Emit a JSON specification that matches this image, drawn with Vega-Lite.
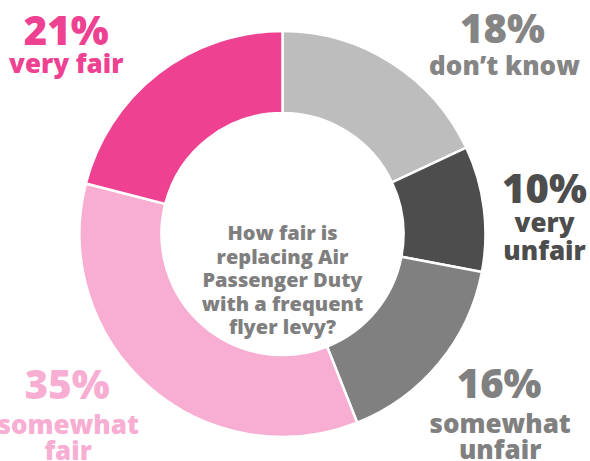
{
  "$schema": "https://vega.github.io/schema/vega-lite/v6.json",
  "width": 565,
  "height": 454,
  "autosize": {"type": "none"},
  "padding": {"left": 0, "top": 7, "right": 25, "bottom": 0},
  "background": "white",
  "config": {"view": {"stroke": null}, "text": {"font": "Open Sans", "fontWeight": 800, "align": "center", "baseline": "alphabetic", "lineBreak": "\n"}},
  "data": {"values": [
    {"cat": "dk", "value": 18, "pct": "18%", "label": "don’t know", "order": 1},
    {"cat": "vu", "value": 10, "pct": "10%", "label": "very\nunfair", "order": 2},
    {"cat": "su", "value": 16, "pct": "16%", "label": "somewhat\nunfair", "order": 3},
    {"cat": "sf", "value": 35, "pct": "35%", "label": "somewhat\nfair", "order": 4},
    {"cat": "vf", "value": 21, "pct": "21%", "label": "very fair", "order": 5}
  ]},
  "encoding": {
    "theta": {"field": "value", "type": "quantitative", "stack": true},
    "order": {"field": "order", "type": "quantitative"}
  },
  "layer": [
    {
      "mark": {"type": "arc", "innerRadius": 121, "outerRadius": 203, "stroke": "white", "strokeWidth": 2.5},
      "encoding": {
        "color": {"field": "cat", "type": "nominal", "legend": null,
          "scale": {"domain": ["dk", "vu", "su", "sf", "vf"], "range": ["#BDBDBD", "#4D4D4D", "#808080", "#F8AED2", "#EE4192"]}}
      }
    },
    {"mark": {"type": "text", "radius": 250, "dx": -63, "dy": 9, "fontSize": 40, "fontWeight": 900, "color": "#EE4192"},
     "encoding": {"text": {"condition": {"test": "datum.cat === 'vf'", "field": "pct", "type": "nominal"}, "value": ""}}},
    {"mark": {"type": "text", "radius": 250, "dx": -63, "dy": 37, "fontSize": 26, "color": "#EE4192", "lineHeight": 27},
     "encoding": {"text": {"condition": {"test": "datum.cat === 'vf'", "field": "label", "type": "nominal"}, "value": ""}}},
    {"mark": {"type": "text", "radius": 250, "dx": 86, "dy": 20, "fontSize": 40, "fontWeight": 900, "color": "#858585"},
     "encoding": {"text": {"condition": {"test": "datum.cat === 'dk'", "field": "pct", "type": "nominal"}, "value": ""}}},
    {"mark": {"type": "text", "radius": 250, "dx": 88, "dy": 52, "fontSize": 26, "color": "#858585", "lineHeight": 27},
     "encoding": {"text": {"condition": {"test": "datum.cat === 'dk'", "field": "label", "type": "nominal"}, "value": ""}}},
    {"mark": {"type": "text", "radius": 250, "dx": 14, "dy": 0, "fontSize": 40, "fontWeight": 900, "color": "#4D4D4D"},
     "encoding": {"text": {"condition": {"test": "datum.cat === 'vu'", "field": "pct", "type": "nominal"}, "value": ""}}},
    {"mark": {"type": "text", "radius": 250, "dx": 14, "dy": 29, "fontSize": 26, "color": "#4D4D4D", "lineHeight": 28},
     "encoding": {"text": {"condition": {"test": "datum.cat === 'vu'", "field": "label", "type": "nominal"}, "value": ""}}},
    {"mark": {"type": "text", "radius": 250, "dx": 24, "dy": 5, "fontSize": 40, "fontWeight": 900, "color": "#808080"},
     "encoding": {"text": {"condition": {"test": "datum.cat === 'su'", "field": "pct", "type": "nominal"}, "value": ""}}},
    {"mark": {"type": "text", "radius": 250, "dx": 25, "dy": 40, "fontSize": 26, "color": "#808080", "lineHeight": 26},
     "encoding": {"text": {"condition": {"test": "datum.cat === 'su'", "field": "label", "type": "nominal"}, "value": ""}}},
    {"mark": {"type": "text", "radius": 250, "dx": -50, "dy": -23, "fontSize": 40, "fontWeight": 900, "color": "#F8AED2"},
     "encoding": {"text": {"condition": {"test": "datum.cat === 'sf'", "field": "pct", "type": "nominal"}, "value": ""}}},
    {"mark": {"type": "text", "radius": 250, "dx": -49, "dy": 12, "fontSize": 26, "color": "#F8AED2", "lineHeight": 26},
     "encoding": {"text": {"condition": {"test": "datum.cat === 'sf'", "field": "label", "type": "nominal"}, "value": ""}}},
    {
      "data": {"values": [{"q": "How fair is\nreplacing Air\nPassenger Duty\nwith a frequent\nflyer levy?"}]},
      "mark": {"type": "text", "fontSize": 20, "color": "#7F7F7F", "baseline": "middle", "lineHeight": 23.5},
      "encoding": {"text": {"field": "q", "type": "nominal"}, "theta": null, "order": null}
    }
  ]
}
